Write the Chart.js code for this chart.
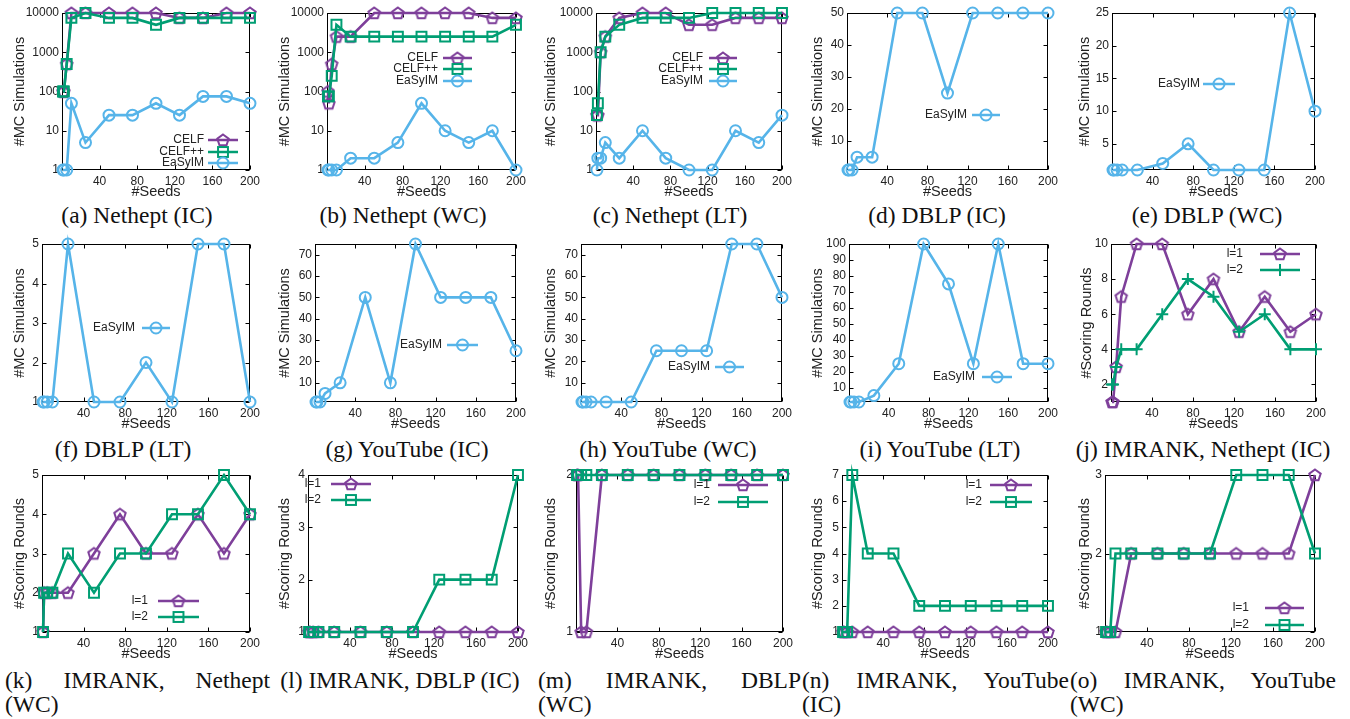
<!DOCTYPE html>
<html>
<head>
<meta charset="utf-8">
<script src="https://cdn.jsdelivr.net/npm/chart.js@4.4.1/dist/chart.umd.min.js"></script>
<style>
  body { margin: 0; background: #fff; width: 1350px; height: 719px; position: relative; overflow: hidden; }
  canvas { position: absolute; }
  .cap, .cap2 { position: absolute; font-family: "Liberation Serif", "Times New Roman", serif; font-size: 23.5px; color: #111; }
  .cap { white-space: nowrap; transform: translate(-50%, -50%); }
  .cap2 { line-height: 24px; }
  .cap2 .l1 { text-align: justify; text-align-last: justify; }
</style>
</head>
<body>
<script>
// seed counts on the x axis of every panel
var seeds = [1, 2, 5, 10, 25, 50, 75, 100, 125, 150, 175, 200];
var seedTicks = [40, 80, 120, 160, 200];

// number of MC simulations
var netheptIcCelf   = [100, 100, 500, 10000, 10000, 10000, 10000, 10000, 7500, 7500, 10000, 10000];
var netheptIcCelfPP = [100, 100, 500, 7500, 10000, 7500, 7500, 5000, 7500, 7500, 7500, 7500];
var netheptIcEasyim = [1, 1, 1, 50, 5, 25, 25, 50, 25, 75, 75, 50];
var netheptWcCelf   = [100, 50, 500, 2500, 2500, 10000, 10000, 10000, 10000, 10000, 7500, 7500];
var netheptWcCelfPP = [75, 75, 250, 5000, 2500, 2500, 2500, 2500, 2500, 2500, 2500, 5000];
var netheptWcEasyim = [1, 1, 1, 1, 2, 2, 5, 50, 10, 5, 10, 1];
var netheptLtCelf   = [25, 25, 1000, 2500, 7500, 10000, 10000, 5000, 5000, 7500, 7500, 7500];
var netheptLtCelfPP = [25, 50, 1000, 2500, 5000, 7500, 7500, 7500, 10000, 10000, 10000, 10000];
var netheptLtEasyim = [1, 2, 2, 5, 2, 10, 2, 1, 1, 10, 5, 25];
var dblpIcEasyim    = [1, 1, 1, 5, 5, 50, 50, 25, 50, 50, 50, 50];
var dblpWcEasyim    = [1, 1, 1, 1, 1, 2, 5, 1, 1, 1, 25, 10];
var dblpLtEasyim    = [1, 1, 1, 1, 5, 1, 1, 2, 1, 5, 5, 1];
var youtubeIcEasyim = [1, 1, 1, 5, 10, 50, 10, 75, 50, 50, 50, 25];
var youtubeWcEasyim = [1, 1, 1, 1, 1, 1, 25, 25, 25, 75, 75, 50];
var youtubeLtEasyim = [1, 1, 1, 1, 5, 25, 100, 75, 25, 100, 25, 25];

// IMRANK scoring rounds
var imNetheptIcL1 = [1, 1, 3, 7, 10, 10, 6, 8, 5, 7, 5, 6];
var imNetheptIcL2 = [2, 2, 3, 4, 4, 6, 8, 7, 5, 6, 4, 4];
var imNetheptWcL1 = [1, 2, 2, 2, 2, 3, 4, 3, 3, 4, 3, 4];
var imNetheptWcL2 = [1, 2, 2, 2, 3, 2, 3, 3, 4, 4, 5, 4];
var imDblpIcL1    = [1, 1, 1, 1, 1, 1, 1, 1, 1, 1, 1, 1];
var imDblpIcL2    = [1, 1, 1, 1, 1, 1, 1, 1, 2, 2, 2, 4];
var imDblpWcL1    = [2, 2, 1, 1, 2, 2, 2, 2, 2, 2, 2, 2];
var imDblpWcL2    = [2, 2, 2, 2, 2, 2, 2, 2, 2, 2, 2, 2];
var imYoutubeIcL1 = [1, 1, 1, 1, 1, 1, 1, 1, 1, 1, 1, 1];
var imYoutubeIcL2 = [1, 1, 1, 7, 4, 4, 2, 2, 2, 2, 2, 2];
var imYoutubeWcL1 = [1, 1, 1, 1, 2, 2, 2, 2, 2, 2, 2, 3];
var imYoutubeWcL2 = [1, 1, 1, 2, 2, 2, 2, 2, 3, 3, 3, 2];

// y tick values
var logTicks = [1, 10, 100, 1000, 10000];
var ticks10to50 = [10, 20, 30, 40, 50];
var ticks5to25 = [5, 10, 15, 20, 25];
var ticks1to5 = [1, 2, 3, 4, 5];
var ticks10to70 = [10, 20, 30, 40, 50, 60, 70];
var ticks10to100 = [10, 20, 30, 40, 50, 60, 70, 80, 90, 100];
var ticks2to10 = [2, 4, 6, 8, 10];
var ticks1to4 = [1, 2, 3, 4];
var ticks1to2 = [1, 2];
var ticks1to7 = [1, 2, 3, 4, 5, 6, 7];
var ticks1to3 = [1, 2, 3];

var purple = '#7e3f9a', green = '#009e73', blue = '#56b4e9';
var sans = '"Liberation Sans", Arial, Helvetica, sans-serif';
Chart.defaults.font.family = sans;

function pentagonMark(color) {
  var c = document.createElement('canvas');
  c.width = 16; c.height = 16;
  var g = c.getContext('2d');
  g.strokeStyle = color;
  g.lineWidth = 2;
  g.beginPath();
  for (var i = 0; i < 5; i++) {
    var a = -Math.PI / 2 + i * 2 * Math.PI / 5;
    var x = 8 + 6 * Math.cos(a), y = 8.5 + 6 * Math.sin(a);
    if (i) g.lineTo(x, y); else g.moveTo(x, y);
  }
  g.closePath();
  g.stroke();
  return c;
}

var looks = {
  pent:   { color: purple, style: pentagonMark(purple), r: 6 },
  square: { color: green,  style: 'rect',   r: 7 },
  circle: { color: blue,   style: 'circle', r: 5.5 },
  plus:   { color: green,  style: 'cross',  r: 6 }
};

var mcTitle = '#MC Simulations', srTitle = '#Scoring Rounds';

var panels = [
  { frame: [62, 13, 250, 170], titleX: 20, log: true, yMin: 1, yMax: 10000, yTicks: logTicks, yTitle: mcTitle,
    series: [['CELF', netheptIcCelf, 'pent'], ['CELF++', netheptIcCelfPP, 'square'], ['EaSyIM', netheptIcEasyim, 'circle']],
    key: { right: 204, rows: [140, 152, 163], line: [208, 238] }, caption: '(a) Nethept (IC)', capAt: [137, 215] },
  { frame: [327, 13, 516, 170], titleX: 285, log: true, yMin: 1, yMax: 10000, yTicks: logTicks, yTitle: mcTitle,
    series: [['CELF', netheptWcCelf, 'pent'], ['CELF++', netheptWcCelfPP, 'square'], ['EaSyIM', netheptWcEasyim, 'circle']],
    key: { right: 438, rows: [58, 69, 81], line: [443, 472] }, caption: '(b) Nethept (WC)', capAt: [403, 215] },
  { frame: [596, 13, 782, 170], titleX: 551, log: true, yMin: 1, yMax: 10000, yTicks: logTicks, yTitle: mcTitle,
    series: [['CELF', netheptLtCelf, 'pent'], ['CELF++', netheptLtCelfPP, 'square'], ['EaSyIM', netheptLtEasyim, 'circle']],
    key: { right: 703, rows: [58, 69, 81], line: [709, 737] }, caption: '(c) Nethept (LT)', capAt: [670, 215] },
  { frame: [847, 13, 1048, 170], titleX: 818, yMin: 1, yMax: 50, yTicks: ticks10to50, yTitle: mcTitle,
    series: [['EaSyIM', dblpIcEasyim, 'circle']],
    key: { right: 967, rows: [115], line: [972, 1000] }, caption: '(d) DBLP (IC)', capAt: [937, 215] },
  { frame: [1112, 13, 1315, 170], titleX: 1085, yMin: 1, yMax: 25, yTicks: ticks5to25, yTitle: mcTitle,
    series: [['EaSyIM', dblpWcEasyim, 'circle']],
    key: { right: 1200, rows: [84], line: [1203, 1235] }, caption: '(e) DBLP (WC)', capAt: [1207, 215] },

  { frame: [42, 244, 250, 402], titleX: 20, yMin: 1, yMax: 5, yTicks: ticks1to5, yTitle: mcTitle,
    series: [['EaSyIM', dblpLtEasyim, 'circle']],
    key: { right: 135, rows: [328], line: [142, 170] }, caption: '(f) DBLP (LT)', capAt: [123, 449] },
  { frame: [315, 244, 516, 402], titleX: 285, yMin: 1, yMax: 75, yTicks: ticks10to70, yTitle: mcTitle,
    series: [['EaSyIM', youtubeIcEasyim, 'circle']],
    key: { right: 442, rows: [345], line: [447, 478] }, caption: '(g) YouTube (IC)', capAt: [407, 449] },
  { frame: [581, 244, 782, 402], titleX: 551, yMin: 1, yMax: 75, yTicks: ticks10to70, yTitle: mcTitle,
    series: [['EaSyIM', youtubeWcEasyim, 'circle']],
    key: { right: 710, rows: [367], line: [715, 744] }, caption: '(h) YouTube (WC)', capAt: [668, 449] },
  { frame: [849, 244, 1048, 402], titleX: 818, yMin: 1, yMax: 100, yTicks: ticks10to100, yTitle: mcTitle,
    series: [['EaSyIM', youtubeLtEasyim, 'circle']],
    key: { right: 975, rows: [377], line: [982, 1012] }, caption: '(i) YouTube (LT)', capAt: [940, 449] },
  { frame: [1111, 244, 1316, 402], titleX: 1087, yMin: 1, yMax: 10, yTicks: ticks2to10, yTitle: srTitle,
    series: [['l=1', imNetheptIcL1, 'pent'], ['l=2', imNetheptIcL2, 'plus']],
    key: { right: 1243, rows: [254, 270], line: [1260, 1300] }, caption: '(j) IMRANK, Nethept (IC)', capAt: [1203, 449] },

  { frame: [42, 475, 250, 632], titleX: 20, yMin: 1, yMax: 5, yTicks: ticks1to5, yTitle: srTitle,
    series: [['l=1', imNetheptWcL1, 'pent'], ['l=2', imNetheptWcL2, 'square']],
    key: { right: 148, rows: [601, 617], line: [158, 199] }, caption2: ['(k) IMRANK, Nethept', '(WC)'], capBox: [5, 265] },
  { frame: [308, 475, 518, 632], titleX: 285, yMin: 1, yMax: 4, yTicks: ticks1to4, yTitle: srTitle,
    series: [['l=1', imDblpIcL1, 'pent'], ['l=2', imDblpIcL2, 'square']],
    key: { right: 321, rows: [484, 500], line: [331, 371] }, caption: '(l) IMRANK, DBLP (IC)', capAt: [400, 680] },
  { frame: [576, 475, 783, 632], titleX: 551, yMin: 1, yMax: 2, yTicks: ticks1to2, yTitle: srTitle,
    series: [['l=1', imDblpWcL1, 'pent'], ['l=2', imDblpWcL2, 'square']],
    key: { right: 710, rows: [485, 502], line: [718, 768] }, caption2: ['(m) IMRANK, DBLP', '(WC)'], capBox: [538, 263] },
  { frame: [842, 475, 1048, 632], titleX: 818, yMin: 1, yMax: 7, yTicks: ticks1to7, yTitle: srTitle,
    series: [['l=1', imYoutubeIcL1, 'pent'], ['l=2', imYoutubeIcL2, 'square']],
    key: { right: 982, rows: [485, 502], line: [990, 1032] }, caption2: ['(n) IMRANK, YouTube', '(IC)'], capBox: [802, 267] },
  { frame: [1105, 475, 1315, 632], titleX: 1085, yMin: 1, yMax: 3, yTicks: ticks1to3, yTitle: srTitle,
    series: [['l=1', imYoutubeWcL1, 'pent'], ['l=2', imYoutubeWcL2, 'square']],
    key: { right: 1249, rows: [608, 625], line: [1265, 1304] }, caption2: ['(o) IMRANK, YouTube', '(WC)'], capBox: [1070, 266] }
];

function drawMark(ctx, look, x, y) {
  ctx.save();
  ctx.strokeStyle = look.color;
  ctx.lineWidth = 2;
  ctx.beginPath();
  if (look.style === 'circle') {
    ctx.arc(x, y, look.r, 0, 2 * Math.PI);
    ctx.stroke();
  } else if (look.style === 'rect') {
    var h = look.r * Math.SQRT1_2;
    ctx.strokeRect(x - h, y - h, 2 * h, 2 * h);
  } else if (look.style === 'cross') {
    ctx.moveTo(x - look.r, y); ctx.lineTo(x + look.r, y);
    ctx.moveTo(x, y - look.r); ctx.lineTo(x, y + look.r);
    ctx.stroke();
  } else {
    ctx.drawImage(look.style, x - look.style.width / 2, y - look.style.height / 2);
  }
  ctx.restore();
}

// border box with inward tics on all four sides, gnuplot style
var framePlugin = {
  id: 'frame',
  beforeDatasetsDraw: function (chart) {
    var a = chart.chartArea, ctx = chart.ctx, sx = chart.scales.x, sy = chart.scales.y;
    var L = Math.round(a.left) + 0.5, R = Math.round(a.right) - 0.5;
    var T = Math.round(a.top) + 0.5, B = Math.round(a.bottom) - 0.5;
    var tic = 4;
    ctx.save();
    ctx.strokeStyle = '#000';
    ctx.lineWidth = 1;
    ctx.strokeRect(L, T, R - L, B - T);
    ctx.beginPath();
    sx.ticks.forEach(function (t) {
      var px = Math.round(sx.getPixelForValue(t.value)) + 0.5;
      ctx.moveTo(px, B); ctx.lineTo(px, B - tic);
      ctx.moveTo(px, T); ctx.lineTo(px, T + tic);
    });
    sy.ticks.forEach(function (t) {
      var py = Math.round(sy.getPixelForValue(t.value)) + 0.5;
      ctx.moveTo(L, py); ctx.lineTo(L + tic, py);
      ctx.moveTo(R, py); ctx.lineTo(R - tic, py);
    });
    ctx.stroke();
    ctx.restore();
  }
};

function keyPlugin(p, left, top) {
  return {
    id: 'key',
    afterDatasetsDraw: function (chart) {
      var ctx = chart.ctx;
      ctx.save();
      ctx.font = '12px ' + sans;
      ctx.textAlign = 'right';
      ctx.textBaseline = 'middle';
      p.series.forEach(function (s, i) {
        var look = looks[s[2]];
        var y = p.key.rows[i] - top;
        var x0 = p.key.line[0] - left, x1 = p.key.line[1] - left;
        ctx.fillStyle = '#222';
        ctx.fillText(s[0], p.key.right - left, y);
        ctx.strokeStyle = look.color;
        ctx.lineWidth = 2.5;
        ctx.beginPath();
        ctx.moveTo(x0, y); ctx.lineTo(x1, y);
        ctx.stroke();
        drawMark(ctx, look, (x0 + x1) / 2, y);
      });
      ctx.restore();
    }
  };
}

function makeSet(entry, i) {
  var look = looks[entry[2]];
  return {
    label: entry[0],
    data: seeds.map(function (s, k) { return { x: s, y: entry[1][k] }; }),
    borderColor: look.color,
    backgroundColor: 'rgba(0,0,0,0)',
    borderWidth: 2.6,
    pointStyle: look.style,
    pointRadius: look.r,
    pointBorderWidth: 2,
    pointBorderColor: look.color,
    pointBackgroundColor: 'rgba(0,0,0,0)',
    tension: 0,
    clip: false,
    order: -i
  };
}

panels.forEach(function (p) {
  var f = p.frame;
  var left = Math.round(p.titleX - 8.7), top = f[1] - 13;
  var width = f[2] + 14 - left, height = f[3] + 31 - top;
  var axisW = f[0] - left;

  var cv = document.createElement('canvas');
  cv.width = width; cv.height = height;
  cv.style.left = left + 'px'; cv.style.top = top + 'px';
  cv.style.width = width + 'px'; cv.style.height = height + 'px';
  document.body.appendChild(cv);

  new Chart(cv, {
    type: 'line',
    data: { datasets: p.series.map(makeSet) },
    options: {
      responsive: false,
      animation: false,
      layout: { padding: { top: 13, right: 14, left: 0, bottom: 0 } },
      plugins: { legend: { display: false }, tooltip: { enabled: false } },
      scales: {
        x: {
          type: 'linear', min: 0, max: 200,
          afterBuildTicks: function (s) { s.ticks = seedTicks.map(function (v) { return { value: v }; }); },
          afterFit: function (s) { s.height = 31; },
          grid: { display: false, drawTicks: false },
          border: { display: false },
          ticks: { padding: 4, color: '#222', font: { size: 12 }, maxRotation: 0, autoSkip: false },
          title: { display: true, text: '#Seeds', color: '#222', font: { size: 14.5 }, padding: 0 }
        },
        y: {
          type: p.log ? 'logarithmic' : 'linear', min: p.yMin, max: p.yMax,
          afterBuildTicks: function (s) { s.ticks = p.yTicks.map(function (v) { return { value: v }; }); },
          afterFit: function (s) { s.width = axisW; },
          grid: { display: false, drawTicks: false },
          border: { display: false },
          ticks: { padding: 3, color: '#222', font: { size: 12 }, autoSkip: false,
                   callback: function (v) { return String(v); } },
          title: { display: true, text: p.yTitle, color: '#222', font: { size: 14.5 }, padding: 0 }
        }
      }
    },
    plugins: [framePlugin, keyPlugin(p, left, top)]
  });

  var cap = document.createElement('div');
  if (p.caption2) {
    cap.className = 'cap2';
    cap.style.left = p.capBox[0] + 'px';
    cap.style.width = p.capBox[1] + 'px';
    cap.style.top = '668px';
    cap.innerHTML = '<div class="l1">' + p.caption2[0] + '</div><div>' + p.caption2[1] + '</div>';
  } else {
    cap.className = 'cap';
    cap.style.left = p.capAt[0] + 'px';
    cap.style.top = p.capAt[1] + 'px';
    cap.textContent = p.caption;
  }
  document.body.appendChild(cap);
});
</script>
</body>
</html>
